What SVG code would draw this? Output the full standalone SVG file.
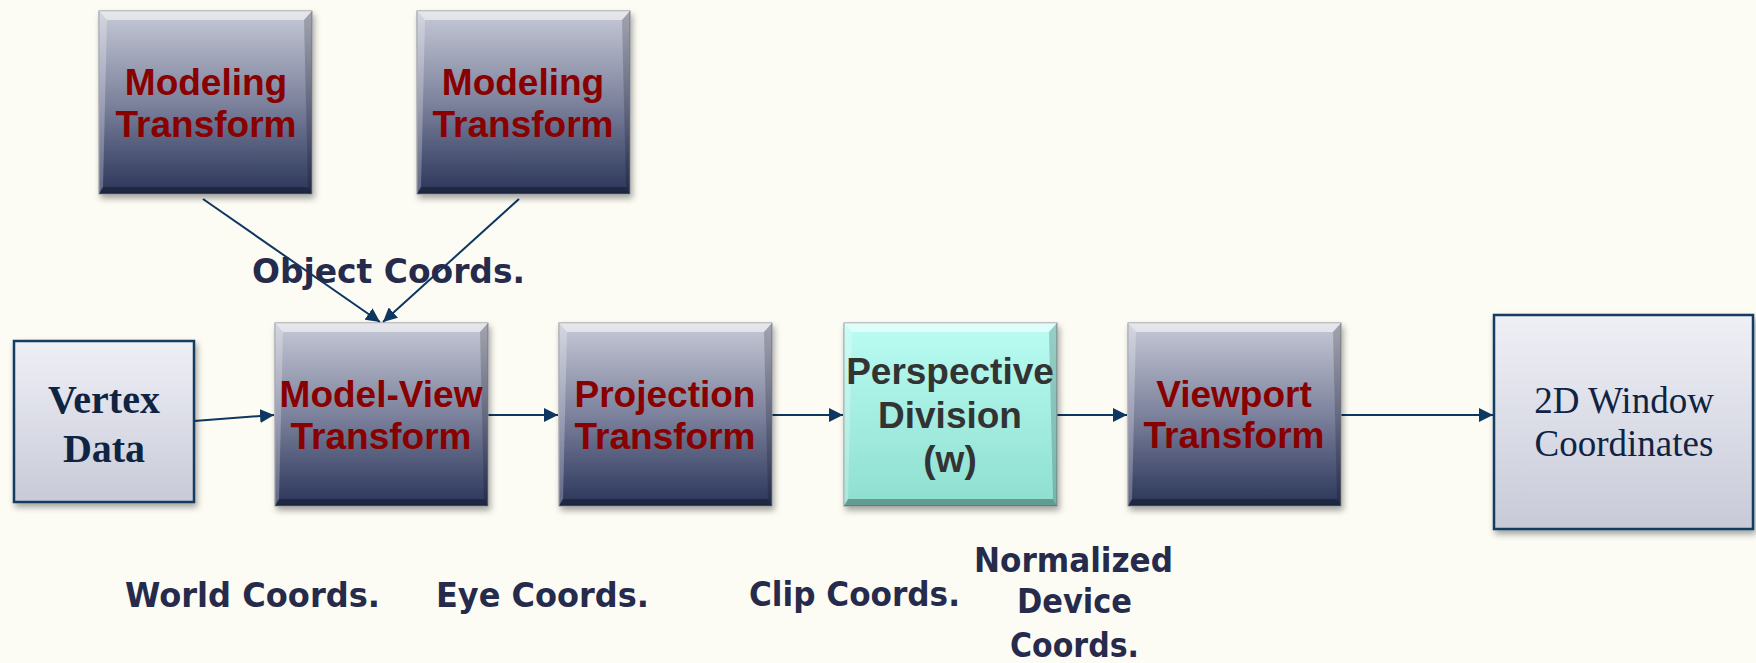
<svg xmlns="http://www.w3.org/2000/svg" width="1756" height="663" viewBox="0 0 1756 663">
<defs>
<linearGradient id="gBlue" x1="0" y1="0" x2="0" y2="1">
<stop offset="0" stop-color="#c6c9d6"/>
<stop offset="0.5" stop-color="#7d829d"/>
<stop offset="1" stop-color="#2a3559"/>
</linearGradient>
<linearGradient id="gTeal" x1="0" y1="0" x2="0" y2="1">
<stop offset="0" stop-color="#bafcf3"/>
<stop offset="1" stop-color="#8edfcf"/>
</linearGradient>
<linearGradient id="gLight" x1="0" y1="0" x2="0" y2="1">
<stop offset="0" stop-color="#eff0f6"/>
<stop offset="1" stop-color="#c8cad8"/>
</linearGradient>
<filter id="sh" x="-10%" y="-10%" width="125%" height="125%">
<feDropShadow dx="2" dy="4" stdDeviation="3" flood-color="#000" flood-opacity="0.35"/>
</filter>
<marker id="ah" markerUnits="userSpaceOnUse" markerWidth="15" markerHeight="14" refX="14" refY="7" orient="auto">
<path d="M0,0 L14,7 L0,14 z" fill="#0d3660"/>
</marker>
<g id="bevel">
<polygon points="0,0 213,0 205,9 8,9" fill="#fff" opacity="0.55"/>
<polygon points="0,0 8,9 4,176 0,183" fill="#fff" opacity="0.25"/>
<polygon points="213,0 205,9 209,176 213,183" fill="#000" opacity="0.18"/>
<polygon points="0,183 4,176 209,176 213,183" fill="#000" opacity="0.3"/>
</g>
</defs>
<style>
.box{stroke:#8a8c96;stroke-width:1;filter:url(#sh)}
.lbox{fill:url(#gLight);stroke:#123a62;stroke-width:2.5;filter:url(#sh)}
.tr{font-family:"Liberation Sans",Arial,sans-serif;font-weight:bold;font-size:37px;fill:#880000;text-anchor:middle}
.pd{font-family:"Liberation Sans",Arial,sans-serif;font-weight:bold;font-size:37px;fill:#333333;text-anchor:middle}
.tb{font-family:"Liberation Serif","Times New Roman",serif;font-weight:bold;font-size:40px;fill:#0f2442;text-anchor:middle}
.tn{font-family:"Liberation Serif","Times New Roman",serif;font-size:37px;fill:#0f2442;text-anchor:middle}
.lab{font-family:"Comic Sans MS","DejaVu Sans",sans-serif;font-weight:bold;font-size:34px;fill:#262b4c}
.cn{fill:none;stroke:#0d3660;stroke-width:2;marker-end:url(#ah)}
</style>
<rect width="1756" height="663" fill="#fcfcf4"/>

<g id="connectors">
<line class="cn" x1="203" y1="199" x2="380" y2="322"/>
<line class="cn" x1="519" y1="199" x2="383" y2="322"/>
<line class="cn" x1="194" y1="421" x2="274" y2="415"/>
<line class="cn" x1="488" y1="415" x2="558" y2="415"/>
<line class="cn" x1="771" y1="415" x2="843" y2="415"/>
<line class="cn" x1="1056" y1="415" x2="1127" y2="415"/>
<line class="cn" x1="1341" y1="415" x2="1493" y2="415"/>
</g>

<g id="modeling1">
<rect class="box" x="99" y="11" width="213" height="183" fill="url(#gBlue)"/>
<use href="#bevel" x="99" y="11"/>
<text class="tr" x="206" y="95">Modeling</text>
<text class="tr" x="206" y="137">Transform</text>
</g>
<g id="modeling2">
<rect class="box" x="417" y="11" width="213" height="183" fill="url(#gBlue)"/>
<use href="#bevel" x="417" y="11"/>
<text class="tr" x="523" y="95">Modeling</text>
<text class="tr" x="523" y="137">Transform</text>
</g>
<g id="vertex">
<rect class="lbox" x="14" y="341" width="180" height="161"/>
<text class="tb" x="104" y="413">Vertex</text>
<text class="tb" x="104" y="462">Data</text>
</g>
<g id="modelview">
<rect class="box" x="275" y="323" width="213" height="183" fill="url(#gBlue)"/>
<use href="#bevel" x="275" y="323"/>
<text class="tr" x="381" y="407">Model-View</text>
<text class="tr" x="381" y="449">Transform</text>
</g>
<g id="projection">
<rect class="box" x="559" y="323" width="213" height="183" fill="url(#gBlue)"/>
<use href="#bevel" x="559" y="323"/>
<text class="tr" x="665" y="407">Projection</text>
<text class="tr" x="665" y="449">Transform</text>
</g>
<g id="perspective">
<rect class="box" x="844" y="323" width="213" height="183" fill="url(#gTeal)"/>
<use href="#bevel" x="844" y="323"/>
<text class="pd" x="950" y="384">Perspective</text>
<text class="pd" x="950" y="428">Division</text>
<text class="pd" x="950" y="472">(w)</text>
</g>
<g id="viewport">
<rect class="box" x="1128" y="323" width="213" height="183" fill="url(#gBlue)"/>
<use href="#bevel" x="1128" y="323"/>
<text class="tr" x="1234" y="407">Viewport</text>
<text class="tr" x="1234" y="448">Transform</text>
</g>
<g id="window">
<rect class="lbox" x="1494" y="315" width="259" height="214"/>
<text class="tn" x="1624" y="413">2D Window</text>
<text class="tn" x="1624" y="456">Coordinates</text>
</g>

<g id="labels">
<text class="lab" x="252" y="283" textLength="273" lengthAdjust="spacingAndGlyphs">Object Coords.</text>
<text class="lab" x="125" y="607" textLength="255" lengthAdjust="spacingAndGlyphs">World Coords.</text>
<text class="lab" x="436" y="607" textLength="213" lengthAdjust="spacingAndGlyphs">Eye Coords.</text>
<text class="lab" x="749" y="606" textLength="211" lengthAdjust="spacingAndGlyphs">Clip Coords.</text>
<text class="lab" x="974" y="572" textLength="199" lengthAdjust="spacingAndGlyphs">Normalized</text>
<text class="lab" x="1017" y="613" textLength="115" lengthAdjust="spacingAndGlyphs">Device</text>
<text class="lab" x="1010" y="657" textLength="129" lengthAdjust="spacingAndGlyphs">Coords.</text>
</g>
</svg>
